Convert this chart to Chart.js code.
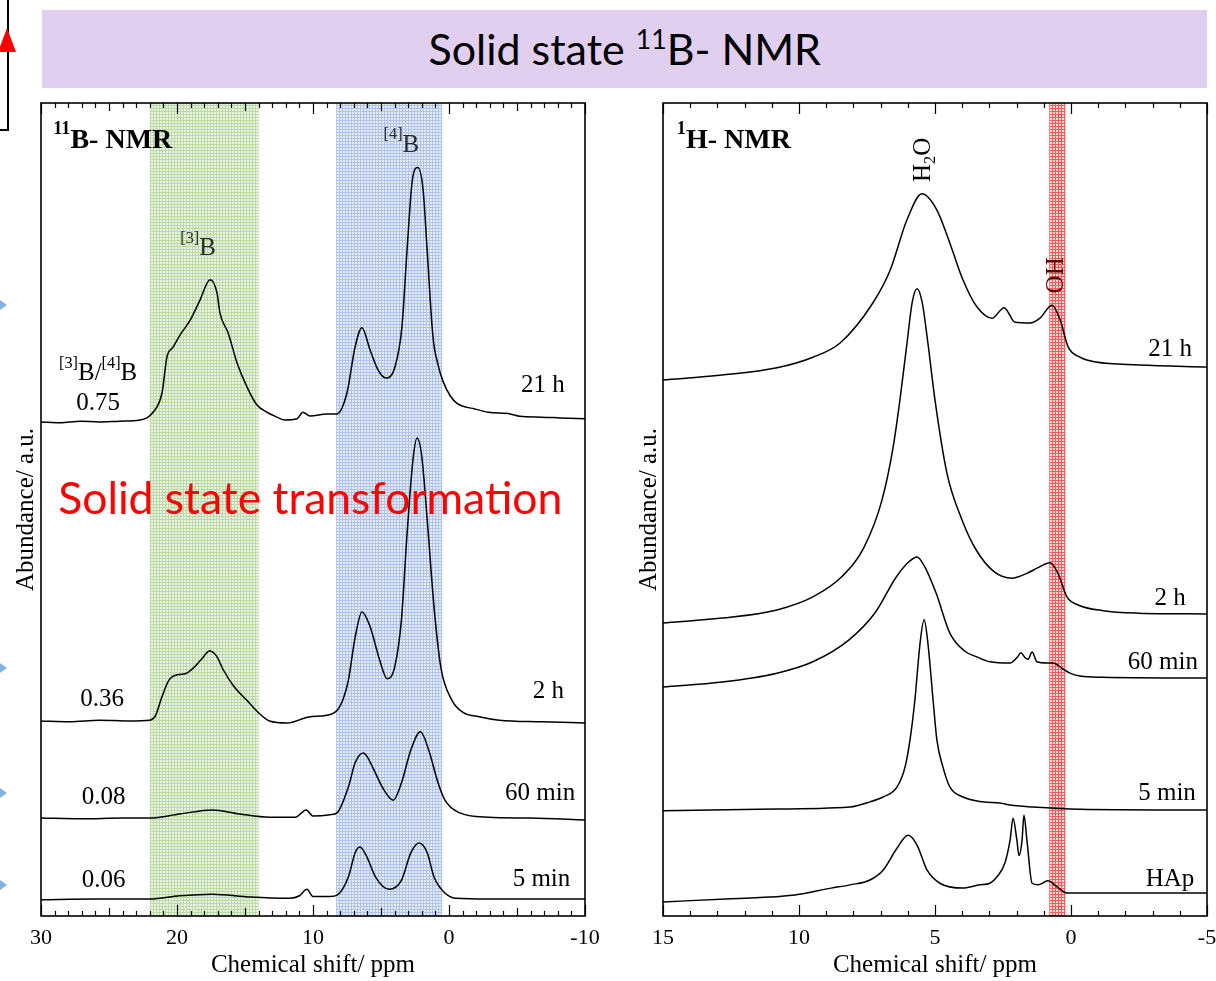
<!DOCTYPE html>
<html>
<head>
<meta charset="utf-8">
<script src="https://cdn.jsdelivr.net/npm/chart.js@4.4.0/dist/chart.umd.min.js"></script>
<style>
html, body { margin:0; padding:0; background:#fff; overflow:hidden; width:1216px; height:981px; position:relative; }
#title { position:absolute; left:42px; top:10px; width:1165px; height:78px; background:#e1cff0;
         display:flex; align-items:center; justify-content:center; z-index:2;
         font-family:Lato, "Open Sans", sans-serif; font-size:42px; color:#000; }
#title span { display:inline-block; white-space:nowrap; }
#title sup { font-size:0.62em; vertical-align:0.6em; line-height:0; }
canvas { position:absolute; top:0; }
#leftChart { left:0; }
#rightChart { left:620px; }
.tri { position:absolute; left:0; width:0; height:0; border-top:5px solid transparent; border-bottom:5px solid transparent; border-left:7px solid #7fb1e3; }
</style>
</head>
<body>
<div id="title"><span id="titleText">Solid state <sup>11</sup>B- NMR</span></div>
<canvas id="leftChart" width="620" height="981"></canvas>
<canvas id="rightChart" width="616" height="981"></canvas>
<!-- bits of the neighbouring slide objects at the left edge -->
<div style="position:absolute;left:7px;top:0;width:2px;height:131px;background:#000"></div>
<div style="position:absolute;left:0;top:129px;width:9px;height:2px;background:#000"></div>
<div style="position:absolute;left:-2px;top:28px;width:0;height:0;border-left:9px solid transparent;border-right:9px solid transparent;border-bottom:24px solid #ff0000"></div>
<div class="tri" style="top:300px"></div>
<div class="tri" style="top:663px"></div>
<div class="tri" style="top:788px"></div>
<div class="tri" style="top:880px"></div>
<script>
const serif = '"Liberation Serif", "Times New Roman", serif';

// ---- 11B spectra: [ppm, intensity above own baseline] ----
const b11Names = ['21 h', '2 h', '60 min', '5 min'];
const b11Ratios = ['0.75', '0.36', '0.08', '0.06'];
const b11Baselines = [60.76, 23.99, 12.05, 2.09];

const b11_21h = [[30,0],[28.6,-0.1],[27.1,0.1],[25.7,0],[24.2,0.1],[22.72,0.25],[21.76,1.2],[21.1,3.6],[20.74,8.0],
  [20.29,9.2],[19.78,10.7],[19.04,12.5],[18.31,15.0],[17.57,17.5],[17.06,15.9],[16.84,13.4],[16.25,11.0],[15.59,7.3],
  [14.85,4.3],[14.12,2.1],[13.38,1.2],[12.65,0.6],[12.06,0.25],[11.18,0.4],[10.74,1.2],[10.22,0.75],[8.97,1.0],[8.24,1.0],
  [7.5,3.6],[6.91,9.2],[6.4,11.6],[5.81,8.9],[5.22,6.4],[4.63,5.4],[3.97,6.8],[3.46,11.7],[3.09,21.0],[2.7,29.7],[2.3,31.3],
  [1.9,28.5],[1.62,21.5],[1.18,10.5],[0.8,7.0],[0.44,5.0],[-0.1,3.2],[-0.59,2.3],[-1.9,1.6],[-2.9,1.2],[-4.5,1.0],
  [-5.2,0.7],[-6.8,0.6],[-8.2,0.5],[-10,0.4]];
const b11_2h = [[30,0],[27.9,-0.1],[25.7,0.1],[23.5,0],[22.0,0.1],[21.6,0.6],[21.1,3.0],[20.6,5.0],[19.9,5.7],[19.4,5.8],
  [18.75,6.6],[18.2,7.6],[17.6,8.6],[17.1,8.0],[16.6,6.3],[15.8,4.2],[14.9,2.6],[14.0,1.0],[13.2,0],[11.9,-0.25],[10.3,0.5],
  [9.0,0.7],[8.2,1.35],[7.8,2.6],[7.4,5.0],[6.9,10.3],[6.4,13.4],[5.8,11.6],[5.1,7.5],[4.55,5.2],[4.0,6.6],[3.5,12.4],
  [3.1,22.6],[2.65,32.1],[2.35,34.8],[2.0,32.5],[1.6,24.7],[1.1,14.0],[0.6,6.6],[-0.2,2.6],[-1.0,1.1],[-2.3,0.5],[-3.7,0.1],
  [-6.8,-0.1],[-10,-0.25]];
const b11_60m = [[30,0],[27,-0.1],[24,0],[22,0],[19.8,0.5],[17.4,1.0],[15.4,0.5],[13.2,0.1],[11.3,0.1],[10.5,1.0],[10.0,0.25],
  [8.75,0.4],[8.2,0.7],[7.4,3.8],[6.9,6.8],[6.3,8.0],[6.0,7.5],[5.6,6.2],[4.8,3.5],[4.1,2.2],[3.5,4.3],[2.8,8.4],[2.1,10.6],
  [1.5,8.4],[0.8,4.3],[0.3,2.2],[-0.7,0.7],[-2.9,0.1],[-6,0],[-10,-0.25]];
const b11_5m = [[30,-0.1],[26,0],[22,0],[19.8,0.4],[17.4,0.6],[14.6,0.25],[11.7,0.1],[11.0,0.4],[10.45,1.2],[10.0,0.3],
  [8.75,0.3],[8.2,0.5],[7.4,2.7],[6.9,5.7],[6.55,6.4],[6.1,5.4],[5.4,2.7],[4.4,1.2],[3.5,2.3],[2.8,5.7],[2.2,6.9],[1.6,5.7],
  [1.1,2.7],[0.4,0.9],[-0.5,0.1],[-3,0],[-10,0]];

// ---- 1H spectra ----
const h1Names = ['21 h', '2 h', '60 min', '5 min', 'HAp'];
const h1Baselines = [67.53, 37.15, 29.27, 13.04, 2.83];

const h1_21h = [[15,-1.6],[12.83,-1.0],[10.81,-0.1],[9.49,1.2],[8.49,2.95],[7.28,7.9],[6.65,11.9],[6.03,18.1],[5.48,21.3],
  [4.93,19.3],[4.45,15.2],[3.97,10.7],[3.46,7.4],[2.9,6.0],[2.46,7.3],[2.06,5.5],[1.51,5.4],[1.14,6.0],[0.7,7.6],[0.4,5.8],
  [0.11,2.5],[-0.33,1.2],[-0.92,0.6],[-2.5,0.25],[-5,0]];
const h1_2h = [[15,-1.1],[12.83,-0.5],[10.81,0.5],[9.49,2.1],[8.42,4.6],[7.61,8.2],[6.95,14.0],[6.54,20.5],[6.29,26.3],
  [6.03,33.3],[5.84,38.3],[5.66,40.0],[5.47,38.3],[5.26,33.3],[5.0,26.3],[4.56,17.3],[4.01,11.6],[3.49,7.9],[2.83,5.2],
  [2.17,4.4],[1.62,5.0],[1.21,5.7],[0.77,6.3],[0.48,5.0],[0.15,2.1],[-0.26,1.1],[-1.18,0.4],[-2.5,0.1],[-5,0]];
const h1_60m = [[15,-1.1],[12.83,-0.5],[10.81,0.6],[9.49,2.0],[8.16,4.7],[7.21,8.0],[6.43,12.4],[5.96,14.3],[5.66,14.9],
  [5.37,13.65],[4.96,10.45],[4.45,5.5],[3.9,3.3],[3.46,2.6],[2.98,2.0],[2.24,1.85],[1.99,2.5],[1.84,3.1],[1.69,2.5],
  [1.58,2.3],[1.43,3.2],[1.25,2.0],[0.88,1.85],[0.66,1.85],[0.33,1.2],[0.04,0.6],[-0.33,0.25],[-1.18,0.1],[-5,0]];
const h1_5m = [[15,-0.1],[11.47,0.1],[8.13,0.37],[7.39,1.0],[6.91,1.6],[6.4,2.8],[6.1,5.3],[5.92,8.6],[5.74,13.5],
  [5.55,20.5],[5.4,23.4],[5.26,20.5],[5.07,13.5],[4.93,8.6],[4.71,5.3],[4.45,2.8],[3.97,1.6],[3.24,1.0],[2.61,0.85],
  [2.24,0.6],[1.4,0.37],[-0.33,0.1],[-5,0]];
const h1_hap = [[15,-1.1],[12.5,-0.7],[10.15,-0.25],[8.82,0.6],[8.13,1.0],[7.39,1.6],[6.91,2.8],[6.4,5.5],[5.99,7.1],
  [5.66,5.9],[5.29,2.8],[4.82,1.2],[3.97,0.6],[3.35,1.0],[2.98,1.2],[2.72,2.0],[2.43,3.7],[2.24,6.5],[2.13,9.2],[1.99,6.5],
  [1.91,4.6],[1.8,6.5],[1.73,9.6],[1.62,6.5],[1.43,1.2],[1.21,1.0],[0.85,1.5],[0.51,0.75],[0.15,0],[-5,0]];

// shaded regions [from ppm, to ppm]
const b11Bands = [[22, 14], [8.3, 0.5]];
const h1Bands = [[0.8, 0.2]];

function toPoints(arr, base) {
  return arr.map(p => ({x: p[0], y: p[1] + base}));
}

function makeTile(base, line) {
  const c = document.createElement('canvas');
  c.width = 3; c.height = 3;
  const g = c.getContext('2d');
  g.fillStyle = base; g.fillRect(0, 0, 3, 3);
  g.fillStyle = line; g.fillRect(0, 0, 3, 1); g.fillRect(0, 0, 1, 3);
  return c;
}

// parts: [text, shift] shift 1 = superscript, -1 = subscript
function drawRich(ctx, parts, x, y, align, size, bold, color, family) {
  const fnt = s => (bold ? 'bold ' : '') + s + 'px ' + (family || serif);
  let w = 0;
  parts.forEach(p => { ctx.font = fnt(p[1] ? size * 0.65 : size); w += ctx.measureText(p[0]).width; });
  let cx = align === 'center' ? x - w / 2 : (align === 'right' ? x - w : x);
  ctx.textAlign = 'left';
  ctx.textBaseline = 'alphabetic';
  ctx.fillStyle = color;
  parts.forEach(p => {
    ctx.font = fnt(p[1] ? size * 0.65 : size);
    const dy = p[1] === 1 ? -size * 0.5 : (p[1] === -1 ? size * 0.2 : 0);
    ctx.fillText(p[0], cx, y + dy);
    cx += ctx.measureText(p[0]).width;
  });
}

function drawLabel(ctx, l, xs, ys) {
  const px = xs.getPixelForValue(l.x), py = ys.getPixelForValue(l.y);
  ctx.save();
  ctx.translate(px, py);
  if (l.rotate) ctx.rotate(l.rotate);
  if (l.fit) {
    ctx.font = l.size + 'px ' + l.family;
    const w = ctx.measureText(l.parts[0][0]).width;
    ctx.scale(l.fit / w, 1);
  }
  drawRich(ctx, l.parts, 0, l.rotate ? l.size * 0.33 : 0, l.align || 'center', l.size, l.bold, l.color || '#000', l.family);
  ctx.restore();
}

const framePlugin = {
  id: 'frame',
  beforeDatasetsDraw(chart, args, o) {
    const {ctx, chartArea: a, scales: {x, y}} = chart;
    ctx.save();
    o.labels.filter(l => l.under).forEach(l => drawLabel(ctx, l, x, y));
    // hatched bands multiply over whatever is beneath them
    ctx.globalCompositeOperation = 'multiply';
    o.bands.forEach((b, i) => {
      const x1 = x.getPixelForValue(b[0]), x2 = x.getPixelForValue(b[1]);
      const t = o.tiles[i];
      ctx.fillStyle = ctx.createPattern(makeTile(t[0], t[1]), 'repeat');
      ctx.fillRect(Math.min(x1, x2), a.top, Math.abs(x2 - x1), a.bottom - a.top);
    });
    ctx.restore();
  },
  afterDatasetsDraw(chart, args, o) {
    const {ctx, chartArea: a, scales: {x, y}} = chart;
    ctx.save();
    ctx.strokeStyle = '#000';
    ctx.lineWidth = 1.2;
    ctx.beginPath();
    for (let v = Math.ceil(x.min); v <= x.max; v++) {
      const px = Math.round(x.getPixelForValue(v)) + 0.5;
      const len = v % o.labelStep === 0 ? 11 : (v % 5 === 0 ? 8 : 5);
      ctx.moveTo(px, a.top); ctx.lineTo(px, a.top + len);
      ctx.moveTo(px, a.bottom); ctx.lineTo(px, a.bottom - len);
    }
    ctx.stroke();
    ctx.lineWidth = 1.6;
    ctx.strokeRect(a.left, a.top, a.right - a.left, a.bottom - a.top);
    o.labels.filter(l => !l.under).forEach(l => drawLabel(ctx, l, x, y));
    ctx.restore();
  }
};

function buildChart(id, series, baselines, xMin, xMax, step, yWidth, yTitlePad, padRight, frame) {
  new Chart(document.getElementById(id), {
    type: 'line',
    data: {
      datasets: series.map((s, i) => ({
        data: toPoints(s, baselines[i]),
        borderColor: '#000', borderWidth: 1.5, pointRadius: 0,
        cubicInterpolationMode: 'monotone', fill: false
      }))
    },
    options: {
      responsive: false, animation: false, events: [],
      layout: {padding: {left: 0, right: padRight, top: 103, bottom: 0}},
      scales: {
        x: {
          type: 'linear', reverse: true, min: xMin, max: xMax,
          grid: {display: false, drawTicks: false}, border: {display: false},
          ticks: {stepSize: step, autoSkip: false, maxRotation: 0, color: '#000', padding: 9,
                  font: {family: serif, size: 22}},
          title: {display: true, text: 'Chemical shift/ ppm', color: '#000',
                  font: {family: serif, size: 25}, padding: {top: 0, bottom: 1}},
          afterFit: s => { s.height = 65; }
        },
        y: {
          min: 0, max: 100,
          grid: {display: false, drawTicks: false}, border: {display: false},
          ticks: {display: false},
          title: {display: true, text: 'Abundance/ a.u.', color: '#000',
                  font: {family: serif, size: 25}, padding: {top: yTitlePad, bottom: 0}},
          afterFit: s => { s.width = yWidth; }
        }
      },
      plugins: {legend: {display: false}, tooltip: {enabled: false}, frame: frame}
    },
    plugins: [framePlugin]
  });
}

const lato = 'Lato, "Open Sans", sans-serif';

const leftLabels = [
  {parts: [['11', 1], ['B- NMR', 0]], x: 29.1, y: 94.5, size: 28, bold: true, align: 'left', under: true},
  {parts: [['[4]', 1], ['B', 0]], x: 3.5, y: 94.0, size: 25, color: '#333', under: true},
  {parts: [['[3]', 1], ['B', 0]], x: 18.45, y: 81.3, size: 25, color: '#333', under: true},
  {parts: [['[3]', 1], ['B/', 0], ['[4]', 1], ['B', 0]], x: 25.8, y: 65.9, size: 25},
  {parts: [[b11Ratios[0], 0]], x: 25.8, y: 62.2, size: 25},
  {parts: [[b11Ratios[1], 0]], x: 25.5, y: 25.8, size: 25},
  {parts: [[b11Ratios[2], 0]], x: 25.4, y: 13.8, size: 25},
  {parts: [[b11Ratios[3], 0]], x: 25.4, y: 3.6, size: 25},
  {parts: [[b11Names[0], 0]], x: -6.9, y: 64.5, size: 25},
  {parts: [[b11Names[1], 0]], x: -7.3, y: 26.8, size: 25},
  {parts: [[b11Names[2], 0]], x: -6.7, y: 14.3, size: 25},
  {parts: [[b11Names[3], 0]], x: -6.8, y: 3.7, size: 25},
  {parts: [['Solid state transformation', 0]], x: 10.2, y: 49.4, size: 44, family: lato, fit: 504, color: '#ff0000'}
];

const rightLabels = [
  {parts: [['1', 1], ['H- NMR', 0]], x: 14.49, y: 94.5, size: 28, bold: true, align: 'left'},
  {parts: [['H', 0], ['2', -1], ['O', 0]], x: 5.48, y: 93.0, size: 25, rotate: -Math.PI / 2},
  {parts: [['OH', 0]], x: 0.59, y: 78.8, size: 25, rotate: -Math.PI / 2, color: '#5a0000', under: true},
  {parts: [[h1Names[0], 0]], x: -3.64, y: 68.9, size: 25},
  {parts: [[h1Names[1], 0]], x: -3.64, y: 38.25, size: 25},
  {parts: [[h1Names[2], 0]], x: -3.38, y: 30.4, size: 25},
  {parts: [[h1Names[3], 0]], x: -3.53, y: 14.27, size: 25},
  {parts: [[h1Names[4], 0]], x: -3.64, y: 3.69, size: 25}
];

buildChart('leftChart', [b11_21h, b11_2h, b11_60m, b11_5m], b11Baselines, -10, 30, 10, 41, 11, 35, {
  bands: b11Bands,
  tiles: [['#eaf3e3', '#bcdaa6'], ['#e4ebf7', '#b0c4e8']],
  labelStep: 10,
  labels: leftLabels
});

buildChart('rightChart', [h1_21h, h1_2h, h1_60m, h1_5m, h1_hap], h1Baselines, -5, 15, 5, 43, 14, 29, {
  bands: h1Bands,
  tiles: [['#ffdada', '#ff5a5a']],
  labelStep: 5,
  labels: rightLabels
});

// squeeze the title to the width it has on the slide
const tt = document.getElementById('titleText');
tt.style.transform = 'scaleX(' + (393 / tt.offsetWidth) + ')';
</script>
</body>
</html>
